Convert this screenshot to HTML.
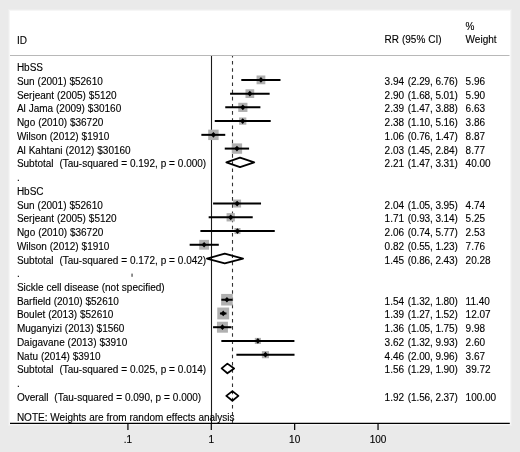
<!DOCTYPE html>
<html><head><meta charset="utf-8"><style>
html,body{margin:0;padding:0;background:#eaeaea;}
body{width:520px;height:452px;overflow:hidden;}
svg{display:block;will-change:transform;}
text{-webkit-font-smoothing:antialiased;font-family:"Liberation Sans",sans-serif;font-size:10px;fill:#000;stroke:#000;stroke-width:0.12px;white-space:pre;word-spacing:0.12px;}
</style></head><body>
<svg width="520" height="452" viewBox="0 0 520 452" xml:space="preserve">
<rect x="0" y="0" width="520" height="452" fill="#eaeaea"/>
<rect x="8" y="9" width="504" height="417" fill="#eeeeee"/>
<rect x="9" y="10" width="502" height="415" fill="#f6f6f6"/>
<rect x="10" y="11" width="500" height="413" fill="#fff"/>
<line x1="10" y1="55.5" x2="509.5" y2="55.5" stroke="#b8b8b8" stroke-width="1"/>
<line x1="211.5" y1="56" x2="211.5" y2="423" stroke="#1a1a1a" stroke-width="1.1"/>
<line x1="232.5" y1="56" x2="232.5" y2="423" stroke="#333" stroke-width="1.1" stroke-dasharray="3.6 3.565" stroke-dashoffset="2.2"/>
<rect x="256.56" y="75.50" width="8.77" height="8.77" fill="#b0b0b0"/>
<rect x="245.48" y="89.26" width="8.73" height="8.73" fill="#b0b0b0"/>
<rect x="238.26" y="102.78" width="9.18" height="9.18" fill="#b0b0b0"/>
<rect x="239.06" y="117.47" width="7.28" height="7.28" fill="#b0b0b0"/>
<rect x="208.21" y="129.65" width="10.41" height="10.41" fill="#b0b0b0"/>
<rect x="231.76" y="143.41" width="10.36" height="10.36" fill="#b0b0b0"/>
<rect x="233.14" y="199.58" width="7.95" height="7.95" fill="#b0b0b0"/>
<rect x="226.57" y="213.14" width="8.31" height="8.31" fill="#b0b0b0"/>
<rect x="234.43" y="228.00" width="6.07" height="6.07" fill="#b0b0b0"/>
<rect x="199.20" y="239.86" width="9.82" height="9.82" fill="#b0b0b0"/>
<rect x="221.14" y="293.93" width="11.59" height="11.59" fill="#b0b0b0"/>
<rect x="217.28" y="307.53" width="11.88" height="11.88" fill="#b0b0b0"/>
<rect x="216.96" y="321.74" width="10.95" height="10.95" fill="#b0b0b0"/>
<rect x="254.81" y="337.88" width="6.14" height="6.14" fill="#b0b0b0"/>
<rect x="261.87" y="351.13" width="7.12" height="7.12" fill="#b0b0b0"/>
<line x1="241.30" y1="79.89" x2="280.49" y2="79.89" stroke="#000" stroke-width="2"/>
<polygon points="258.35,79.89 260.95,77.04 263.55,79.89 260.95,82.74" fill="#000"/>
<line x1="230.08" y1="93.63" x2="269.65" y2="93.63" stroke="#000" stroke-width="2"/>
<polygon points="247.25,93.63 249.85,90.78 252.45,93.63 249.85,96.48" fill="#000"/>
<line x1="225.25" y1="107.37" x2="260.39" y2="107.37" stroke="#000" stroke-width="2"/>
<polygon points="240.25,107.37 242.85,104.52 245.45,107.37 242.85,110.22" fill="#000"/>
<line x1="214.75" y1="121.11" x2="270.71" y2="121.11" stroke="#000" stroke-width="2"/>
<polygon points="240.10,121.11 242.70,118.26 245.30,121.11 242.70,123.96" fill="#000"/>
<line x1="201.36" y1="134.85" x2="225.25" y2="134.85" stroke="#000" stroke-width="2"/>
<polygon points="210.81,134.85 213.41,132.00 216.01,134.85 213.41,137.70" fill="#000"/>
<line x1="224.75" y1="148.59" x2="249.09" y2="148.59" stroke="#000" stroke-width="2"/>
<polygon points="234.34,148.59 236.94,145.74 239.54,148.59 236.94,151.44" fill="#000"/>
<polygon points="226.35,162.33 240.01,157.53 254.24,162.33 240.01,167.13" fill="none" stroke="#000" stroke-width="1.8" stroke-linejoin="round"/>
<line x1="213.07" y1="203.55" x2="261.04" y2="203.55" stroke="#000" stroke-width="2"/>
<polygon points="234.51,203.55 237.11,200.70 239.71,203.55 237.11,206.40" fill="#000"/>
<line x1="208.67" y1="217.29" x2="252.73" y2="217.29" stroke="#000" stroke-width="2"/>
<polygon points="228.12,217.29 230.72,214.44 233.32,217.29 230.72,220.14" fill="#000"/>
<line x1="200.40" y1="231.03" x2="274.76" y2="231.03" stroke="#000" stroke-width="2"/>
<polygon points="234.87,231.03 237.47,228.18 240.07,231.03 237.47,233.88" fill="#000"/>
<line x1="189.65" y1="244.77" x2="218.80" y2="244.77" stroke="#000" stroke-width="2"/>
<polygon points="201.51,244.77 204.11,241.92 206.71,244.77 204.11,247.62" fill="#000"/>
<polygon points="206.94,258.51 224.75,253.71 243.05,258.51 224.75,263.31" fill="none" stroke="#000" stroke-width="1.8" stroke-linejoin="round"/>
<line x1="221.35" y1="299.73" x2="232.58" y2="299.73" stroke="#000" stroke-width="2"/>
<polygon points="224.33,299.73 226.93,296.88 229.53,299.73 226.93,302.58" fill="#000"/>
<line x1="219.95" y1="313.47" x2="226.46" y2="313.47" stroke="#000" stroke-width="2"/>
<polygon points="220.62,313.47 223.22,310.62 225.82,313.47 223.22,316.32" fill="#000"/>
<line x1="213.07" y1="327.21" x2="231.56" y2="327.21" stroke="#000" stroke-width="2"/>
<polygon points="219.83,327.21 222.43,324.36 225.03,327.21 222.43,330.06" fill="#000"/>
<line x1="221.35" y1="340.95" x2="294.42" y2="340.95" stroke="#000" stroke-width="2"/>
<polygon points="255.28,340.95 257.88,338.10 260.48,340.95 257.88,343.80" fill="#000"/>
<line x1="236.40" y1="354.69" x2="294.52" y2="354.69" stroke="#000" stroke-width="2"/>
<polygon points="262.84,354.69 265.44,351.84 268.04,354.69 265.44,357.54" fill="#000"/>
<polygon points="221.62,368.43 227.40,363.63 234.14,368.43 227.40,373.23" fill="none" stroke="#000" stroke-width="1.8" stroke-linejoin="round"/>
<polygon points="226.30,395.91 232.40,391.11 238.40,395.91 232.40,400.71" fill="none" stroke="#000" stroke-width="1.8" stroke-linejoin="round"/>
<line x1="10" y1="423.4" x2="509.8" y2="423.4" stroke="#000" stroke-width="1.2"/>
<text x="16.9" y="43.5">ID</text>
<text x="384.6" y="43.3">RR (95% CI)</text>
<text x="465.6" y="30.0">%</text>
<text x="465.6" y="43.3">Weight</text>
<text x="16.9" y="71.15">HbSS</text>
<text x="16.9" y="84.89">Sun (2001) $52610</text>
<text x="384.6" y="84.89">3.94</text>
<text x="407.85" y="84.89" textLength="50.0" lengthAdjust="spacing">(2.29, 6.76)</text>
<text x="465.6" y="84.89">5.96</text>
<text x="16.9" y="98.63">Serjeant (2005) $5120</text>
<text x="384.6" y="98.63">2.90</text>
<text x="407.85" y="98.63" textLength="50.0" lengthAdjust="spacing">(1.68, 5.01)</text>
<text x="465.6" y="98.63">5.90</text>
<text x="16.9" y="112.37">Al Jama (2009) $30160</text>
<text x="384.6" y="112.37">2.39</text>
<text x="407.85" y="112.37" textLength="50.0" lengthAdjust="spacing">(1.47, 3.88)</text>
<text x="465.6" y="112.37">6.63</text>
<text x="16.9" y="126.11">Ngo (2010) $36720</text>
<text x="384.6" y="126.11">2.38</text>
<text x="407.85" y="126.11" textLength="50.0" lengthAdjust="spacing">(1.10, 5.16)</text>
<text x="465.6" y="126.11">3.86</text>
<text x="16.9" y="139.85">Wilson (2012) $1910</text>
<text x="384.6" y="139.85">1.06</text>
<text x="407.85" y="139.85" textLength="50.0" lengthAdjust="spacing">(0.76, 1.47)</text>
<text x="465.6" y="139.85">8.87</text>
<text x="16.9" y="153.59">Al Kahtani (2012) $30160</text>
<text x="384.6" y="153.59">2.03</text>
<text x="407.85" y="153.59" textLength="50.0" lengthAdjust="spacing">(1.45, 2.84)</text>
<text x="465.6" y="153.59">8.77</text>
<text x="16.9" y="167.33">Subtotal  (Tau-squared = 0.192, p = 0.000)</text>
<text x="384.6" y="167.33">2.21</text>
<text x="407.85" y="167.33" textLength="50.0" lengthAdjust="spacing">(1.47, 3.31)</text>
<text x="465.6" y="167.33">40.00</text>
<text x="16.9" y="181.07">.</text>
<text x="16.9" y="194.81">HbSC</text>
<text x="16.9" y="208.55">Sun (2001) $52610</text>
<text x="384.6" y="208.55">2.04</text>
<text x="407.85" y="208.55" textLength="50.0" lengthAdjust="spacing">(1.05, 3.95)</text>
<text x="465.6" y="208.55">4.74</text>
<text x="16.9" y="222.29">Serjeant (2005) $5120</text>
<text x="384.6" y="222.29">1.71</text>
<text x="407.85" y="222.29" textLength="50.0" lengthAdjust="spacing">(0.93, 3.14)</text>
<text x="465.6" y="222.29">5.25</text>
<text x="16.9" y="236.03">Ngo (2010) $36720</text>
<text x="384.6" y="236.03">2.06</text>
<text x="407.85" y="236.03" textLength="50.0" lengthAdjust="spacing">(0.74, 5.77)</text>
<text x="465.6" y="236.03">2.53</text>
<text x="16.9" y="249.77">Wilson (2012) $1910</text>
<text x="384.6" y="249.77">0.82</text>
<text x="407.85" y="249.77" textLength="50.0" lengthAdjust="spacing">(0.55, 1.23)</text>
<text x="465.6" y="249.77">7.76</text>
<text x="16.9" y="263.51">Subtotal  (Tau-squared = 0.172, p = 0.042)</text>
<text x="384.6" y="263.51">1.45</text>
<text x="407.85" y="263.51" textLength="50.0" lengthAdjust="spacing">(0.86, 2.43)</text>
<text x="465.6" y="263.51">20.28</text>
<text x="16.9" y="277.25">.</text>
<text x="16.9" y="290.99">Sickle cell disease (not specified)</text>
<text x="16.9" y="304.73">Barfield (2010) $52610</text>
<text x="384.6" y="304.73">1.54</text>
<text x="407.85" y="304.73" textLength="50.0" lengthAdjust="spacing">(1.32, 1.80)</text>
<text x="465.6" y="304.73">11.40</text>
<text x="16.9" y="318.47">Boulet (2013) $52610</text>
<text x="384.6" y="318.47">1.39</text>
<text x="407.85" y="318.47" textLength="50.0" lengthAdjust="spacing">(1.27, 1.52)</text>
<text x="465.6" y="318.47">12.07</text>
<text x="16.9" y="332.21">Muganyizi (2013) $1560</text>
<text x="384.6" y="332.21">1.36</text>
<text x="407.85" y="332.21" textLength="50.0" lengthAdjust="spacing">(1.05, 1.75)</text>
<text x="465.6" y="332.21">9.98</text>
<text x="16.9" y="345.95">Daigavane (2013) $3910</text>
<text x="384.6" y="345.95">3.62</text>
<text x="407.85" y="345.95" textLength="50.0" lengthAdjust="spacing">(1.32, 9.93)</text>
<text x="465.6" y="345.95">2.60</text>
<text x="16.9" y="359.69">Natu (2014) $3910</text>
<text x="384.6" y="359.69">4.46</text>
<text x="407.85" y="359.69" textLength="50.0" lengthAdjust="spacing">(2.00, 9.96)</text>
<text x="465.6" y="359.69">3.67</text>
<text x="16.9" y="373.43">Subtotal  (Tau-squared = 0.025, p = 0.014)</text>
<text x="384.6" y="373.43">1.56</text>
<text x="407.85" y="373.43" textLength="50.0" lengthAdjust="spacing">(1.29, 1.90)</text>
<text x="465.6" y="373.43">39.72</text>
<text x="16.9" y="387.17">.</text>
<text x="16.9" y="400.91">Overall  (Tau-squared = 0.090, p = 0.000)</text>
<text x="384.6" y="400.91">1.92</text>
<text x="407.85" y="400.91" textLength="50.0" lengthAdjust="spacing">(1.56, 2.37)</text>
<text x="465.6" y="400.91">100.00</text>
<text x="16.9" y="421.3">NOTE: Weights are from random effects analysis</text>
<line x1="127.93" y1="423.4" x2="127.93" y2="430" stroke="#000" stroke-width="1.2"/>
<text x="127.93" y="443.4" text-anchor="middle">.1</text>
<line x1="211.30" y1="423.4" x2="211.30" y2="430" stroke="#000" stroke-width="1.2"/>
<text x="211.30" y="443.4" text-anchor="middle">1</text>
<line x1="294.67" y1="423.4" x2="294.67" y2="430" stroke="#000" stroke-width="1.2"/>
<text x="294.67" y="443.4" text-anchor="middle">10</text>
<line x1="378.04" y1="423.4" x2="378.04" y2="430" stroke="#000" stroke-width="1.2"/>
<text x="378.04" y="443.4" text-anchor="middle">100</text>
<rect x="131.4" y="273.6" width="1.3" height="3.2" fill="#555"/>
</svg></body></html>
